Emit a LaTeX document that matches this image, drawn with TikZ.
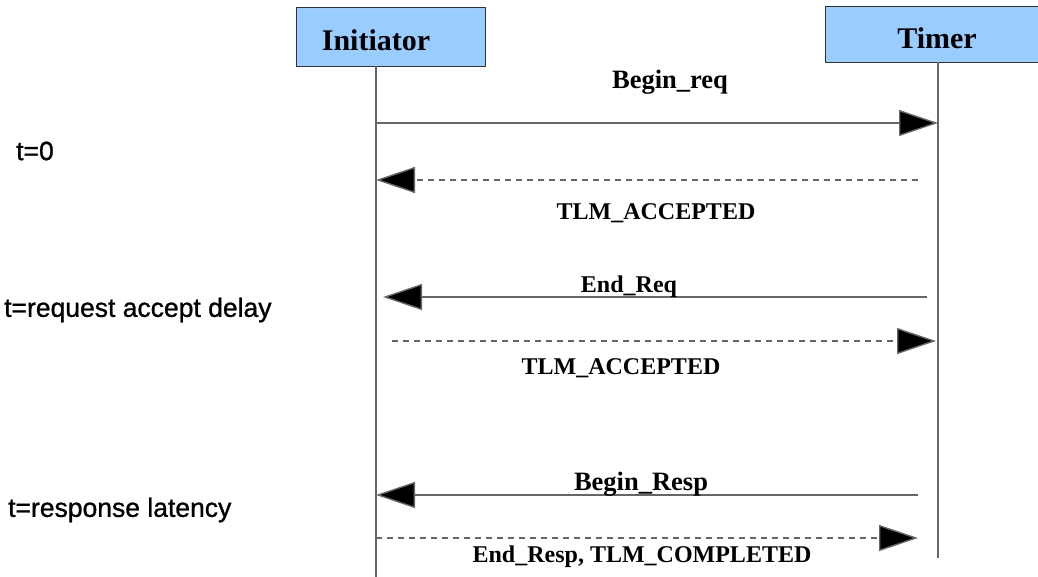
\documentclass[tikz,border=0pt]{standalone}
\usepackage{fontspec}
\setmainfont{Liberation Serif}
\newfontfamily\lsans[FakeBold=1]{Liberation Sans}
\usetikzlibrary{arrows.meta}
\definecolor{boxblue}{HTML}{99CCFF}
\definecolor{linegray}{HTML}{666666}
\tikzset{
  actor/.style={draw=black!80, line width=0.8pt, fill=boxblue, inner sep=0pt},
  actorlabel/.style={font=\fontsize{30}{32}\selectfont\bfseries, inner sep=0pt},
  life/.style={draw=linegray, line width=1.2pt},
  msg/.style={draw=linegray, line width=1.4pt,
    -{Triangle[length=39pt,width=26pt,fill=black]}},
  reply/.style={msg, dash pattern=on 6pt off 5pt},
  msglabel/.style={font=\fontsize{24}{26}\selectfont\bfseries, inner sep=0pt},
  biglabel/.style={font=\fontsize{26.5}{28}\selectfont\bfseries, inner sep=0pt},
  timelabel/.style={font=\lsans\fontsize{26.5}{28}\selectfont, anchor=west, inner sep=0pt}
}
\begin{document}
\begin{tikzpicture}[x=1pt,y=-1pt]
\useasboundingbox (0,0) rectangle (1038,577);
% actors
\node[actor, minimum width=189pt, minimum height=59pt] (init) at (390.5,36.5) {};
\node[actorlabel] (initlbl) at (376,40) {Initiator};
\begin{scope}
\clip (0,0) rectangle (1038,577);
\node[actor, minimum width=240pt, minimum height=56pt] (timer) at (945,34) {};
\end{scope}
\node[actorlabel] (timerlbl) at (937,38) {Timer};
% lifelines
\coordinate (itop) at (376,66);
\coordinate (ibot) at (376,577);
\coordinate (ttop) at (938,62);
\coordinate (tbot) at (938,558);
\draw[life] (itop) -- (ibot);
\draw[life] (ttop) -- (tbot);
% message end points
\coordinate (m1s) at (376,123); \coordinate (m1e) at (938,123);
\coordinate (m2s) at (918,180); \coordinate (m2e) at (376,180);
\coordinate (m3s) at (927,297); \coordinate (m3e) at (383,297);
\coordinate (m4s) at (392,341); \coordinate (m4e) at (936,341);
\coordinate (m5s) at (918,495); \coordinate (m5e) at (376,495);
\coordinate (m6s) at (376,538); \coordinate (m6e) at (918,538);
\draw[msg] (m1s) -- (m1e);
\draw[reply] (m2s) -- (m2e);
\draw[msg] (m3s) -- (m3e);
\draw[reply] (m4s) -- (m4e);
\draw[msg] (m5s) -- (m5e);
\draw[reply] (m6s) -- (m6e);
% message labels
\node[biglabel] (l1) at (670,82) {Begin\_req};
\node[msglabel] (l2) at (656,213) {TLM\_ACCEPTED};
\node[msglabel] (l3) at (629,287) {End\_Req};
\node[msglabel] (l4) at (621,368) {TLM\_ACCEPTED};
\node[biglabel] (l5) at (641,484) {Begin\_Resp};
\node[msglabel] (l6) at (642,557) {End\_Resp, TLM\_COMPLETED};
% time labels
\node[timelabel] (t1) at (16,151) {t=0};
\node[timelabel] (t2) at (4,310) {t=request accept delay};
\node[timelabel] (t3) at (8,510) {t=response latency};
\end{tikzpicture}
\end{document}
